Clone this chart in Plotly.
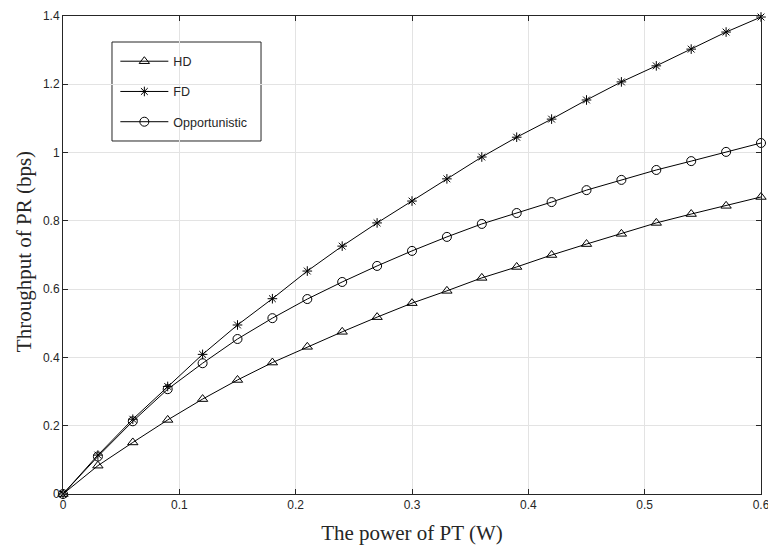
import plotly.graph_objects as go

power = [0, 0.03, 0.06, 0.09, 0.12, 0.15, 0.18, 0.21, 0.24, 0.27, 0.30,
         0.33, 0.36, 0.39, 0.42, 0.45, 0.48, 0.51, 0.54, 0.57, 0.60]
hd = [0, 0.083, 0.151, 0.217, 0.278, 0.334, 0.385, 0.431, 0.475, 0.518, 0.559,
      0.595, 0.633, 0.665, 0.700, 0.732, 0.762, 0.794, 0.820, 0.844, 0.870]
fd = [0, 0.114, 0.219, 0.315, 0.409, 0.495, 0.572, 0.653, 0.726, 0.794, 0.858,
      0.923, 0.987, 1.045, 1.098, 1.154, 1.207, 1.254, 1.303, 1.353, 1.397]
opp = [0, 0.110, 0.213, 0.307, 0.383, 0.454, 0.515, 0.571, 0.621, 0.668, 0.712,
       0.753, 0.791, 0.823, 0.855, 0.890, 0.920, 0.949, 0.975, 1.002, 1.028]

x_ticks = [0, 0.1, 0.2, 0.3, 0.4, 0.5, 0.6]
x_labels = ["0", "0.1", "0.2", "0.3", "0.4", "0.5", "0.6"]
y_ticks = [0, 0.2, 0.4, 0.6, 0.8, 1.0, 1.2, 1.4]
y_labels = ["0", "0.2", "0.4", "0.6", "0.8", "1", "1.2", "1.4"]

series = [("HD", hd, "triangle-up-open", 9),
          ("FD", fd, "asterisk-open", 8),
          ("Opportunistic", opp, "circle-open", 9)]

fig = go.Figure()
for name, vals, sym, sz in series:
    fig.add_trace(go.Scatter(
        x=power, y=vals, name=name, mode="lines+markers", legendgroup=name,
        line=dict(color="black", width=1), cliponaxis=False,
        marker=dict(symbol=sym, size=sz, color="black", line=dict(color="black", width=1)),
    ))

axis_common = dict(
    showline=True, linecolor="#262626", linewidth=1, mirror="ticks",
    ticks="inside", ticklen=5, tickcolor="#262626", automargin=False,
    ticklabeloverflow="allow",
    showgrid=True, gridcolor="#e3e3e3", gridwidth=1, zeroline=False,
    tickfont=dict(family="Liberation Sans, Arial", size=12, color="#262626"),
)

fig.update_layout(
    width=768, height=546,
    margin=dict(l=63, r=7, t=16, b=52),
    paper_bgcolor="white", plot_bgcolor="white",
    showlegend=True,
    legend=dict(
        x=0.075, y=0.936, xanchor="left", yanchor="top",
        borderwidth=0, bgcolor="rgba(0,0,0,0)",
        font=dict(family="Liberation Sans, Arial", size=12.5, color="#262626"),
        tracegroupgap=11, itemwidth=48,
    ),
    xaxis=dict(range=[0, 0.6], tickvals=x_ticks, ticktext=x_labels,
               title=dict(text="The power of PT (W)", standoff=13,
                          font=dict(family="Liberation Serif, Times New Roman", size=21, color="#262626")),
               **axis_common),
    yaxis=dict(range=[0, 1.4], tickvals=y_ticks, ticktext=y_labels, **axis_common),
    shapes=[dict(type="rect", xref="paper", yref="paper",
                 x0=0.0702, x1=0.2837, y0=0.7385, y1=0.9456,
                 line=dict(color="#262626", width=1), fillcolor="white", layer="below")],
    annotations=[dict(text="Throughput of PR (bps)", textangle=-90, showarrow=False,
                      xref="paper", yref="paper", x=0, y=0.506, xanchor="center", yanchor="middle",
                      xshift=-39,
                      font=dict(family="Liberation Serif, Times New Roman", size=21, color="#262626"))],
)

fig.write_html("out.html", config={"displayModeBar": False},
               post_script="document.body.style.margin='0';document.body.style.overflow='hidden';")
